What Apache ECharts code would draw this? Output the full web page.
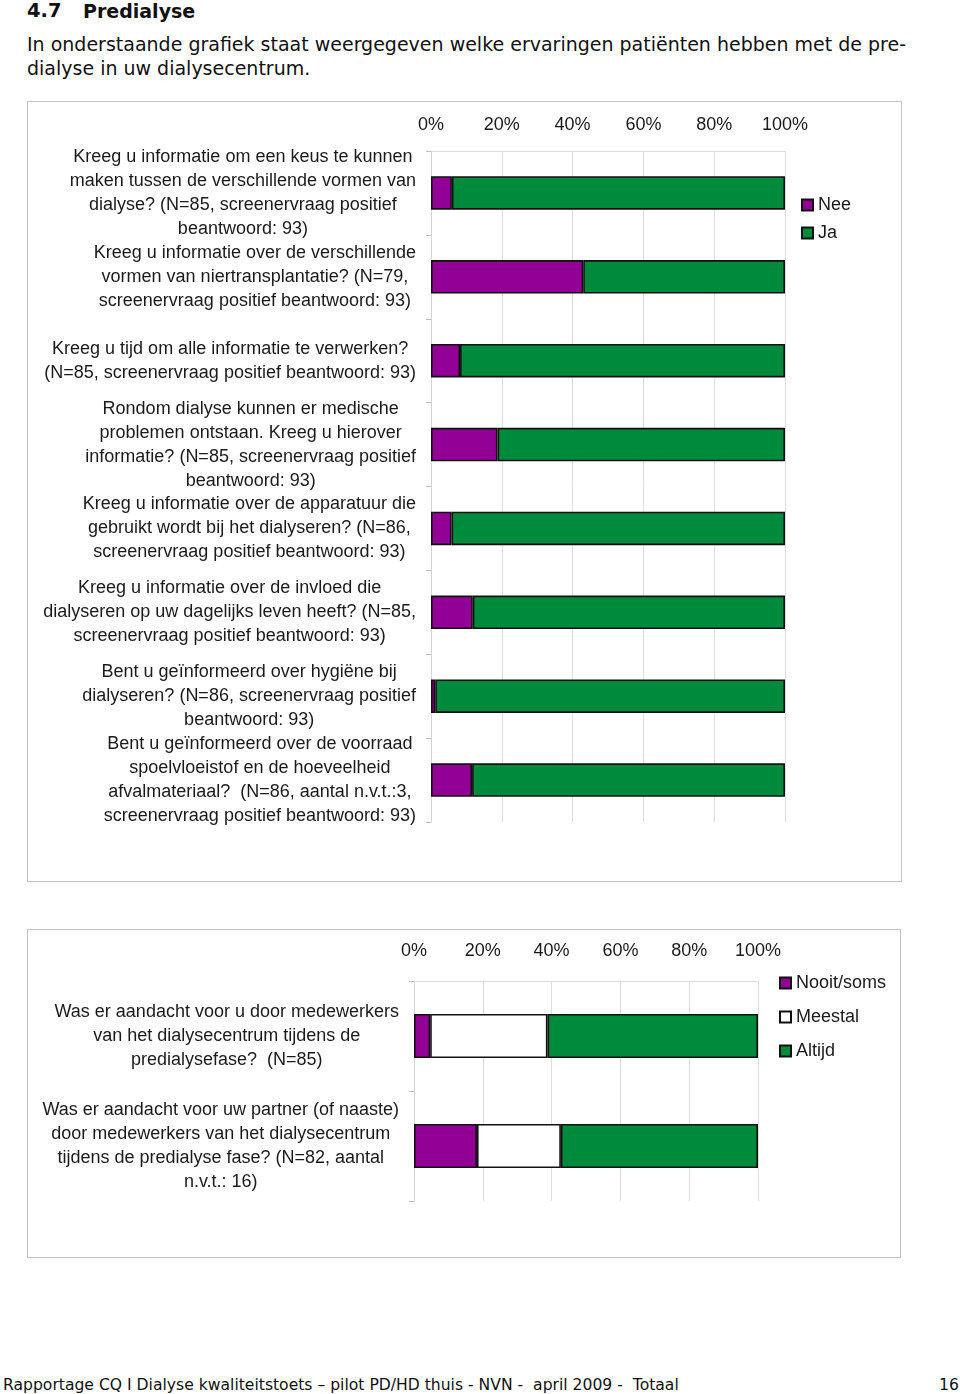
<!DOCTYPE html>
<html>
<head>
<meta charset="utf-8">
<script src="https://cdn.jsdelivr.net/npm/echarts@6/dist/echarts.min.js"></script>
<style>
  html, body { margin: 0; padding: 0; background: #fff; }
  body { width: 960px; height: 1394px; position: relative; overflow: hidden; color: #111; }
  .hdr { position: absolute; font-family: "DejaVu Sans", sans-serif; white-space: nowrap; }
  .box { position: absolute; border: 1px solid #c4c4c4; box-sizing: border-box; }
</style>
</head>
<body>
<div class="hdr" style="left:27px; top:0px; font-size:19.5px; font-weight:bold; line-height:22px;">4.7</div>
<div class="hdr" style="left:83px; top:0px; font-size:19px; font-weight:bold; line-height:22px;">Predialyse</div>
<div class="hdr" style="left:27px; top:32px; font-size:19px; line-height:24px;">In onderstaande grafiek staat weergegeven welke ervaringen patiënten hebben met de pre-<br>dialyse in uw dialysecentrum.</div>

<div id="c1" class="box" style="left:27px; top:101px; width:875px; height:781px;"></div>
<div id="c2" class="box" style="left:27px; top:929px; width:874px; height:329px;"></div>

<div class="hdr" style="left:3px; top:1375px; font-size:15.6px; line-height:20px;">Rapportage CQ I Dialyse kwaliteitstoets – pilot PD/HD thuis - NVN -&nbsp; april 2009 -&nbsp; Totaal</div>
<div class="hdr" style="left:939px; top:1375px; font-size:15.6px; line-height:20px;">16</div>

<script>
// ---- Data: chart 1 ----
const cats1 = [
  "Kreeg u informatie om een keus te kunnen\nmaken tussen de verschillende vormen van\ndialyse? (N=85, screenervraag positief\nbeantwoord: 93)",
  "Kreeg u informatie over de verschillende\nvormen van niertransplantatie? (N=79,\nscreenervraag positief beantwoord: 93)",
  "Kreeg u tijd om alle informatie te verwerken?\n(N=85, screenervraag positief beantwoord: 93)",
  "Rondom dialyse kunnen er medische\nproblemen ontstaan. Kreeg u hierover\ninformatie? (N=85, screenervraag positief\nbeantwoord: 93)",
  "Kreeg u informatie over de apparatuur die\ngebruikt wordt bij het dialyseren? (N=86,\nscreenervraag positief beantwoord: 93)",
  "Kreeg u informatie over de invloed die\ndialyseren op uw dagelijks leven heeft? (N=85,\nscreenervraag positief beantwoord: 93)",
  "Bent u geïnformeerd over hygiëne bij\ndialyseren? (N=86, screenervraag positief\nbeantwoord: 93)",
  "Bent u geïnformeerd over de voorraad\nspoelvloeistof en de hoeveelheid\nafvalmateriaal?  (N=86, aantal n.v.t.:3,\nscreenervraag positief beantwoord: 93)"
];
const nee1 = [5.9, 43.0, 8.2, 18.8, 5.8, 11.8, 1.2, 11.6];
const ja1  = [94.1, 57.0, 91.8, 81.2, 94.2, 88.2, 98.8, 88.4];

// ---- Data: chart 2 ----
const cats2 = [
  "Was er aandacht voor u door medewerkers\nvan het dialysecentrum tijdens de\npredialysefase?  (N=85)",
  "Was er aandacht voor uw partner (of naaste)\ndoor medewerkers van het dialysecentrum\ntijdens de predialyse fase? (N=82, aantal\nn.v.t.: 16)"
];
const nooit2   = [4.7, 18.3];
const meestal2 = [34.1, 24.4];
const altijd2  = [61.2, 57.3];

// ---- Ticks ----
const tickMin = 0, tickMax = 100, tickStep = 20;

const FONT = "'Liberation Sans', Arial, sans-serif";
const TXT = '#1a1a1a';
const PURPLE = '#930095';
const GREEN = '#008a3c';

function xAxisCfg(margin) {
  return {
    type: 'value', position: 'top', min: tickMin, max: tickMax, interval: tickStep,
    axisLabel: { formatter: '{value}%', fontFamily: FONT, fontSize: 18, color: TXT, margin: margin },
    axisLine: { show: true, lineStyle: { color: '#dcdcdc', width: 1 } },
    axisTick: { show: false },
    splitLine: { show: true, lineStyle: { color: '#dedede', width: 1 } }
  };
}
function yAxisCfg(cats) {
  return {
    type: 'category', data: cats, inverse: true,
    axisLine: { show: true, lineStyle: { color: '#d4d4d4', width: 1 } },
    axisTick: { show: true, length: 5, lineStyle: { color: '#bdbdbd' } },
    axisLabel: {
      interval: 0, margin: 15, align: 'right',
      formatter: v => '{c|' + v + '}',
      rich: { c: { align: 'center', fontFamily: FONT, fontSize: 18, lineHeight: 24, color: TXT } }
    }
  };
}
function barSeries(name, data, color) {
  return {
    name: name, type: 'bar', stack: 'total', data: data, barWidth: '40%',
    itemStyle: { color: color, borderColor: '#111', borderWidth: 1.6 },
    emphasis: { disabled: true }, animation: false
  };
}

const c1 = echarts.init(document.getElementById('c1'), null, { renderer: 'canvas' });
c1.setOption({
  animation: false,
  grid: { left: 403, top: 49, width: 354, height: 671, containLabel: false },
  legend: {
    orient: 'vertical', left: 768, top: 89, itemWidth: 11, itemHeight: 11, itemGap: 10,
    icon: 'rect', selectedMode: false,
    textStyle: { fontFamily: FONT, fontSize: 18, color: TXT },
    data: ['Nee', 'Ja']
  },
  xAxis: xAxisCfg(17),
  yAxis: yAxisCfg(cats1),
  series: [barSeries('Nee', nee1, PURPLE), barSeries('Ja', ja1, GREEN)]
});

const c2 = echarts.init(document.getElementById('c2'), null, { renderer: 'canvas' });
c2.setOption({
  animation: false,
  grid: { left: 386, top: 51, width: 344, height: 220, containLabel: false },
  legend: {
    orient: 'vertical', left: 746, top: 39, itemWidth: 11, itemHeight: 11, itemGap: 16,
    icon: 'rect', selectedMode: false,
    textStyle: { fontFamily: FONT, fontSize: 18, color: TXT },
    data: ['Nooit/soms', 'Meestal', 'Altijd']
  },
  xAxis: xAxisCfg(21),
  yAxis: yAxisCfg(cats2),
  series: [
    barSeries('Nooit/soms', nooit2, PURPLE),
    barSeries('Meestal', meestal2, '#ffffff'),
    barSeries('Altijd', altijd2, GREEN)
  ]
});
</script>
</body>
</html>
